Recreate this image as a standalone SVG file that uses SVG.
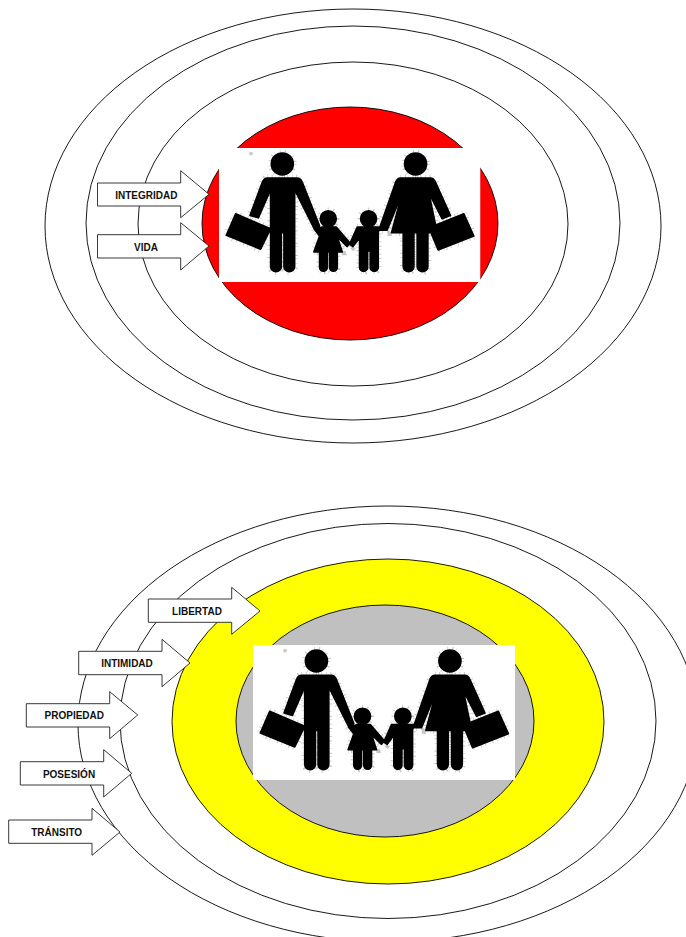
<svg xmlns="http://www.w3.org/2000/svg" width="686" height="937" viewBox="0 0 686 937">
<style>
.ring{fill:none;stroke:#000;stroke-width:.9}
.arrow{fill:#fff;stroke:#222;stroke-width:.9}
.lbl{font:bold 10px "Liberation Sans",Arial,sans-serif;fill:#111;text-anchor:middle}
.halo{fill:none;stroke:#999;stroke-width:20;stroke-dasharray:2 11 3 7 1 13;opacity:.55}
.solid{fill:#000;stroke:#000;stroke-width:5;stroke-linejoin:round}
</style>
<defs>
<filter id="soft" x="-5%" y="-5%" width="110%" height="110%"><feGaussianBlur stdDeviation="2"/></filter>
<path id="sil" d="M155 105L245 105Q255 105 260 118L312 250L298 262L237 140L237 372a16 16 0 0 1-32 0L205 270L197 270L197 372a16 16 0 0 1-32 0L165 140L128 225L103 218L140 118Q145 105 155 105Z
M60 213L165 258L135 320L32 278Z
M320 253L362 253L402 300L395 312L365 282L380 328L365 328L365 375a11.5 11.5 0 0 1-23 0L342 328L335 328L335 375a11.5 11.5 0 0 1-23 0L312 328L295 328L312 280L298 262Z
M425 253L492 253L488 270L488 375a12 12 0 0 1-24 0L464 325L456 325L456 375a12 12 0 0 1-24 0L432 285L412 312L402 305Z
M555 105L645 105Q655 105 660 118L705 218L680 228L640 150L665 270L637 270L637 372a16 16 0 0 1-32 0L605 270L595 270L595 372a16 16 0 0 1-32 0L563 270L528 270L560 150L515 262L490 262L540 118Q545 105 555 105Z
M745 213L775 280L668 322L640 255Z
M233 62a33 33 0 1 1-66 0a33 33 0 1 1 66 0Z
M362 228a24 24 0 1 1-48 0a24 24 0 1 1 48 0Z
M483 228a24 24 0 1 1-48 0a24 24 0 1 1 48 0Z
M633 62a33 33 0 1 1-66 0a33 33 0 1 1 66 0Z"/>
<symbol id="family" viewBox="10 14 785 405" preserveAspectRatio="none">
<rect x="10" y="14" width="785" height="405" fill="#fff"/>
<use href="#sil" class="halo" filter="url(#soft)"/>
<circle cx="106" cy="31" r="6" fill="#ccc" filter="url(#soft)"/>
<use href="#sil" class="solid" filter="url(#soft)"/>
</symbol>
</defs>

<g id="top-diagram">
<ellipse id="top-ring-1" class="ring" cx="353" cy="226" rx="308" ry="217"/>
<ellipse id="top-ring-2" class="ring" cx="353" cy="223" rx="267" ry="197"/>
<ellipse id="top-ring-3" class="ring" cx="353" cy="224" rx="215" ry="162"/>
<ellipse id="top-core" cx="350" cy="223.5" rx="148" ry="116.5" fill="#f00" stroke="#000" stroke-width=".9"/>
<use id="top-family" href="#family" x="219" y="148" width="261.5" height="134"/>
<g id="integridad">
<polygon class="arrow" points="97.5,183 180.7,183 180.7,170.7 209,194.3 180.7,217.7 180.7,206 97.5,206"/>
<text class="lbl" x="146.3" y="199">INTEGRIDAD</text>
</g>
<g id="vida">
<polygon class="arrow" points="97.5,234.7 180.7,234.7 180.7,222.7 209,246 180.7,270 180.7,258 97.5,258"/>
<text class="lbl" x="146" y="250.5">VIDA</text>
</g>
</g>

<g id="bottom-diagram">
<ellipse id="bottom-ring-1" class="ring" cx="388" cy="724" rx="310" ry="218"/>
<ellipse id="bottom-ring-2" class="ring" cx="388" cy="721" rx="268" ry="197.5"/>
<ellipse id="bottom-core-yellow" cx="388" cy="721.5" rx="216" ry="162.5" fill="#ff0" stroke="#000" stroke-width=".9"/>
<ellipse id="bottom-core-grey" cx="385" cy="721" rx="149" ry="116" fill="#c0c0c0" stroke="#000" stroke-width=".9"/>
<use id="bottom-family" href="#family" x="253" y="645" width="262" height="135"/>
<g id="libertad">
<polygon class="arrow" points="148.3,599 231.7,599 231.7,587.3 260,611 231.7,634.3 231.7,622.3 148.3,622.3"/>
<text class="lbl" x="197" y="615">LIBERTAD</text>
</g>
<g id="intimidad">
<polygon class="arrow" points="78.7,651.3 162,651.3 162,639.3 190,663 162,686.7 162,674.7 78.7,674.7"/>
<text class="lbl" x="127" y="667">INTIMIDAD</text>
</g>
<g id="propiedad">
<polygon class="arrow" points="26.3,703.7 109.7,703.7 109.7,691.7 137.7,715 109.7,738.7 109.7,727 26.3,727"/>
<text class="lbl" x="74.3" y="719">PROPIEDAD</text>
</g>
<g id="posesion">
<polygon class="arrow" points="20.3,761.7 103.7,761.7 103.7,749.7 131.7,773.3 103.7,797 103.7,785 20.3,785"/>
<text class="lbl" x="69" y="778">POSESIÓN</text>
</g>
<g id="transito">
<polygon class="arrow" points="8.7,820 92,820 92,808.3 120,832 92,855.3 92,843.3 8.7,843.3"/>
<text class="lbl" x="56.7" y="836">TRÁNSITO</text>
</g>
</g>
</svg>
